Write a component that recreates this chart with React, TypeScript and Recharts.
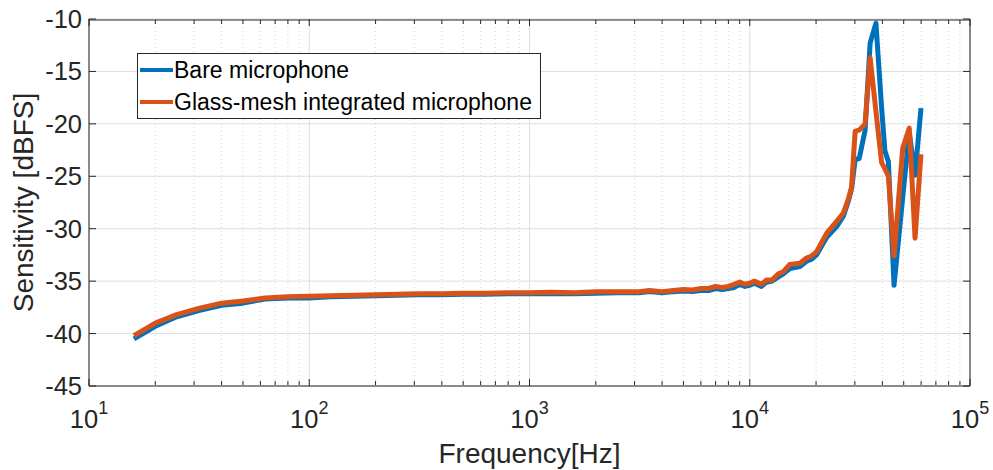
import React from "react";
import { LineChart, Line, XAxis, YAxis, CartesianGrid, Legend, Label } from "recharts";

const FONT = "Arial, 'Liberation Sans', Helvetica, sans-serif";
const INK = "#262626";
const BLUE = "#0072BD";
const ORANGE = "#D95319";

// frequency points [Hz]
const FREQ = [
  16, 20, 25, 31.5, 40, 50, 63, 80, 100, 125, 160, 200, 250, 315, 400, 500, 630, 800,
  1000, 1250, 1600, 2000, 2500, 3150, 3500, 4000, 4500, 5000, 5500, 6000, 6500, 7000,
  7500, 8000, 8500, 9000, 9500, 10000, 10500, 11300, 11900, 12600, 13500, 14200, 15200,
  16900, 18100, 19100, 20100, 22400, 24800, 26600, 28000, 29000, 30100, 31400, 33400,
  35200, 37400, 39700, 41100, 42600, 45200, 49500, 53000, 56300, 59900,
];

// sensitivity [dBFS]
const BARE = [
  -40.5, -39.3, -38.4, -37.8, -37.3, -37.1, -36.7, -36.6, -36.6, -36.5, -36.45, -36.4,
  -36.35, -36.3, -36.3, -36.25, -36.25, -36.2, -36.2, -36.2, -36.2, -36.15, -36.1, -36.1,
  -36.0, -36.1, -36.0, -35.95, -36.0, -35.9, -35.9, -35.7, -35.8, -35.7, -35.6, -35.3,
  -35.5, -35.4, -35.2, -35.5, -35.1, -35.0, -34.6, -34.3, -33.8, -33.6, -33.1, -32.9,
  -32.5, -30.8, -29.8, -28.8, -27.4, -26.2, -23.4, -23.3, -20.6, -12.3, -10.4, -18.5,
  -22.6, -23.6, -35.4, -27.0, -20.8, -24.9, -18.5,
];

const GLASS = [
  -40.2, -39.0, -38.2, -37.6, -37.1, -36.9, -36.6, -36.5, -36.45, -36.4, -36.35, -36.3,
  -36.25, -36.2, -36.2, -36.15, -36.15, -36.1, -36.1, -36.05, -36.1, -36.0, -36.0, -36.0,
  -35.9, -36.0, -35.9, -35.8, -35.85, -35.7, -35.7, -35.5, -35.6, -35.5, -35.3, -35.1,
  -35.3, -35.2, -35.0, -35.3, -34.9, -34.9, -34.3, -34.1, -33.4, -33.3, -32.8, -32.6,
  -32.2, -30.4, -29.3, -28.5, -27.2, -26.0, -20.7, -20.6, -20.0, -13.7, -18.8, -23.7,
  -24.3, -25.0, -32.6, -22.3, -20.4, -30.9, -22.9,
];

const X_MAJOR = [10, 100, 1000, 10000, 100000];
const X_MINOR = [
  20, 30, 40, 50, 60, 70, 80, 90,
  200, 300, 400, 500, 600, 700, 800, 900,
  2000, 3000, 4000, 5000, 6000, 7000, 8000, 9000,
  20000, 30000, 40000, 50000, 60000, 70000, 80000, 90000,
];
const Y_TICKS = [-45, -40, -35, -30, -25, -20, -15, -10];

const data = FREQ.map((f, i) => ({ freq: f, bare: BARE[i], glass: GLASS[i] }));

const PowerTick = (props: any) => {
  const { x, y, payload } = props;
  const exp = Math.round(Math.log10(payload.value));
  return (
    <text x={x} y={y + 42} textAnchor="middle" fill={INK} fontSize={25.5} fontFamily={FONT}>
      <tspan>10</tspan>
      <tspan fontSize={18} dy={-14}>{exp}</tspan>
    </text>
  );
};

const NoLabel = () => <g />;

const LegendBox = () => (
  <div
    style={{
      width: 404,
      height: 66,
      boxSizing: "border-box",
      border: `1px solid ${INK}`,
      background: "#fff",
      fontFamily: FONT,
      fontSize: 23,
      color: "#000",
      paddingLeft: 2,
    }}
  >
    {[
      { name: "Bare microphone", color: BLUE },
      { name: "Glass-mesh integrated microphone", color: ORANGE },
    ].map((it) => (
      <div key={it.name} style={{ display: "flex", alignItems: "center", height: 32, whiteSpace: "nowrap" }}>
        <span style={{ display: "inline-block", width: 33, height: 4, background: it.color, marginRight: 1 }} />
        <span>{it.name}</span>
      </div>
    ))}
  </div>
);

const axisCommon = {
  dataKey: "freq",
  type: "number" as const,
  scale: "log" as const,
  domain: [10, 100000],
  allowDataOverflow: true,
  interval: 0 as const,
};

export default function App() {
  return (
    <div style={{ position: "absolute", left: 0, top: 0, width: 993, height: 470, background: "#fff" }}>
      <LineChart width={993} height={470} data={data} margin={{ top: 19, right: 23, left: 0, bottom: 0 }}>
        <CartesianGrid xAxisId="x" yAxisId="y" stroke="#dedede" />
        <CartesianGrid xAxisId="xbMinor" yAxisId="y" horizontal={false} stroke="#d4d4d4" strokeDasharray="1 3" />

        <XAxis
          xAxisId="x"
          {...axisCommon}
          ticks={X_MAJOR}
          height={84}
          tickLine={false}
          tickSize={0}
          tickMargin={0}
          tick={<PowerTick />}
          axisLine={{ stroke: INK }}
        >
          <Label
            content={({ viewBox }: any) => (
              <text
                x={viewBox.x + viewBox.width / 2}
                y={viewBox.y + 77}
                textAnchor="middle"
                fill={INK}
                fontSize={28}
                fontFamily={FONT}
              >
                Frequency[Hz]
              </text>
            )}
          />
        </XAxis>
        <XAxis xAxisId="xbMinor" {...axisCommon} ticks={X_MINOR} mirror height={1} tick={NoLabel} tickSize={4} axisLine={false} tickLine={{ stroke: INK }} />
        <XAxis xAxisId="xbMajor" {...axisCommon} ticks={X_MAJOR} mirror height={1} tick={NoLabel} tickSize={7} axisLine={false} tickLine={{ stroke: INK }} />
        <XAxis xAxisId="xtMinor" orientation="top" {...axisCommon} ticks={X_MINOR} mirror height={1} tick={NoLabel} tickSize={4} axisLine={{ stroke: INK }} tickLine={{ stroke: INK }} />
        <XAxis xAxisId="xtMajor" orientation="top" {...axisCommon} ticks={X_MAJOR} mirror height={1} tick={NoLabel} tickSize={7} axisLine={false} tickLine={{ stroke: INK }} />

        <YAxis
          yAxisId="y"
          type="number"
          domain={[-45, -10]}
          allowDataOverflow
          ticks={Y_TICKS}
          interval={0}
          width={89}
          tickLine={false}
          tickSize={0}
          tickMargin={7}
          axisLine={{ stroke: INK }}
          tick={{ fill: INK, fontSize: 25.5, fontFamily: FONT }}
        >
          <Label
            content={({ viewBox }: any) => {
              const cx = viewBox.x + 33;
              const cy = viewBox.y + viewBox.height / 2;
              return (
                <text
                  x={cx}
                  y={cy}
                  transform={`rotate(-90 ${cx} ${cy})`}
                  textAnchor="middle"
                  fill={INK}
                  fontSize={28}
                  fontFamily={FONT}
                >
                  Sensitivity [dBFS]
                </text>
              );
            }}
          />
        </YAxis>
        <YAxis yAxisId="ylTicks" type="number" domain={[-45, -10]} allowDataOverflow ticks={Y_TICKS} interval={0} mirror width={1} tick={NoLabel} tickSize={7} axisLine={false} tickLine={{ stroke: INK }} />
        <YAxis yAxisId="yr" orientation="right" type="number" domain={[-45, -10]} allowDataOverflow ticks={Y_TICKS} interval={0} mirror width={1} tick={NoLabel} tickSize={7} axisLine={{ stroke: INK }} tickLine={{ stroke: INK }} />

        <Line
          xAxisId="x"
          yAxisId="y"
          dataKey="bare"
          name="Bare microphone"
          stroke={BLUE}
          strokeWidth={5}
          strokeLinejoin="round"
          dot={false}
          activeDot={false}
          isAnimationActive={false}
        />
        <Line
          xAxisId="x"
          yAxisId="y"
          dataKey="glass"
          name="Glass-mesh integrated microphone"
          stroke={ORANGE}
          strokeWidth={5}
          strokeLinejoin="round"
          dot={false}
          activeDot={false}
          isAnimationActive={false}
        />

        <Legend
          layout="vertical"
          align="center"
          verticalAlign="middle"
          content={() => <LegendBox />}
          wrapperStyle={{ left: 137, top: 53, width: 404, height: 66, right: "auto", bottom: "auto" }}
        />
      </LineChart>
    </div>
  );
}
